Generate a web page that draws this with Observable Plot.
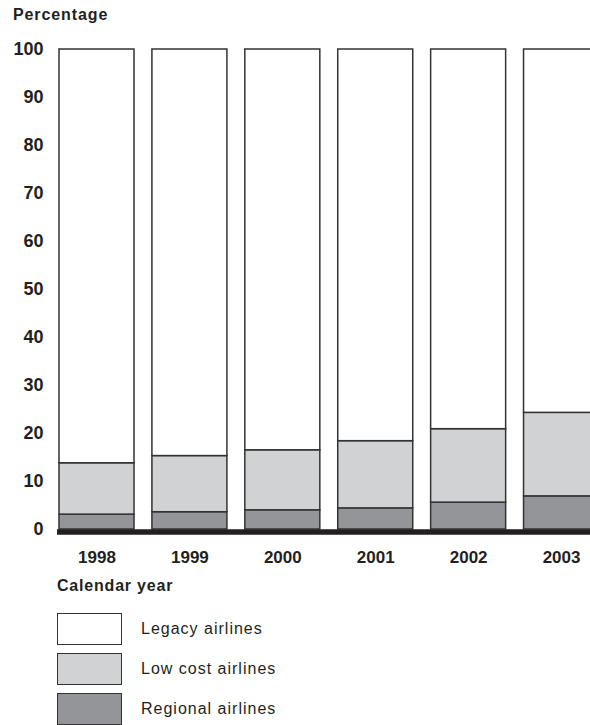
<!DOCTYPE html>
<html>
<head>
<meta charset="utf-8">
<script src="https://cdn.jsdelivr.net/npm/d3@7"></script>
<script src="https://cdn.jsdelivr.net/npm/@observablehq/plot@0.6"></script>
<style>
  html, body { margin: 0; padding: 0; background: #fff; }
  body { width: 590px; height: 725px; overflow: hidden; font-family: "Liberation Sans", Arial, sans-serif; color: #231f20; }
  .title { height: 30px; line-height: 30px; padding-left: 13px; font-weight: bold; font-size: 16px; letter-spacing: 0.9px; }
  .xtitle { height: 32px; line-height: 32px; padding-left: 57px; font-weight: bold; font-size: 16px; letter-spacing: 0.8px; }
  .legend { margin-top: 11px; }
  .row { display: flex; align-items: center; height: 32px; margin-bottom: 8px; }
  .sw { box-sizing: border-box; width: 65px; height: 32px; margin-left: 57px; border: 1.5px solid #333; }
  .lab { margin-left: 19px; font-size: 16px; letter-spacing: 1px; }
</style>
</head>
<body>
<div class="title">Percentage</div>
<div id="chart"></div>
<div class="xtitle">Calendar year</div>
<div class="legend" id="legend"></div>
<script>
const years = ["1998", "1999", "2000", "2001", "2002", "2003"];
const regional = [3.1, 3.6, 4.0, 4.4, 5.6, 6.9];
const lowCost = [10.7, 11.7, 12.5, 14.0, 15.3, 17.4];
const legacy = [86.2, 84.7, 83.5, 81.6, 79.1, 75.7];
const series = ["Regional airlines", "Low cost airlines", "Legacy airlines"];
const seriesColors = ["#939598", "#d1d2d4", "#ffffff"];
const yTicks = [0, 10, 20, 30, 40, 50, 60, 70, 80, 90, 100];

const values = [regional, lowCost, legacy];
const data = [];
years.forEach((yr, i) => {
  series.forEach((s, j) => data.push({year: yr, type: s, value: values[j][i]}));
});

const chart = Plot.plot({
  width: 590,
  height: 540,
  marginTop: 19,
  marginBottom: 41,
  marginLeft: 57,
  marginRight: 0,
  style: {fontFamily: "'Liberation Sans', Arial, sans-serif", color: "#231f20", background: "#fff"},
  x: {type: "band", domain: years, range: [41.35, 616.2], paddingInner: 0.1927, paddingOuter: 0.19, round: false},
  y: {domain: [0, 100]},
  color: {domain: series, range: seriesColors},
  marks: [
    Plot.barY(data, {x: "year", y: "value", fill: "type", order: series, stroke: "#333", strokeWidth: 1.5}),
    Plot.ruleY([0], {stroke: "#231f20", strokeWidth: 5.5, dy: 2.5}),
    Plot.axisY(yTicks, {tickSize: 0, tickPadding: 14, fontSize: 18, fontWeight: "bold", label: null}),
    Plot.axisX({tickSize: 0, tickPadding: 21, fontSize: 17, fontWeight: "bold", label: null})
  ]
});
document.getElementById("chart").appendChild(chart);

const legendOrder = ["Legacy airlines", "Low cost airlines", "Regional airlines"];
const legend = document.getElementById("legend");
legendOrder.forEach(s => {
  const row = document.createElement("div");
  row.className = "row";
  const sw = document.createElement("div");
  sw.className = "sw";
  sw.style.background = seriesColors[series.indexOf(s)];
  const lab = document.createElement("div");
  lab.className = "lab";
  lab.textContent = s;
  row.appendChild(sw);
  row.appendChild(lab);
  legend.appendChild(row);
});
</script>
</body>
</html>
